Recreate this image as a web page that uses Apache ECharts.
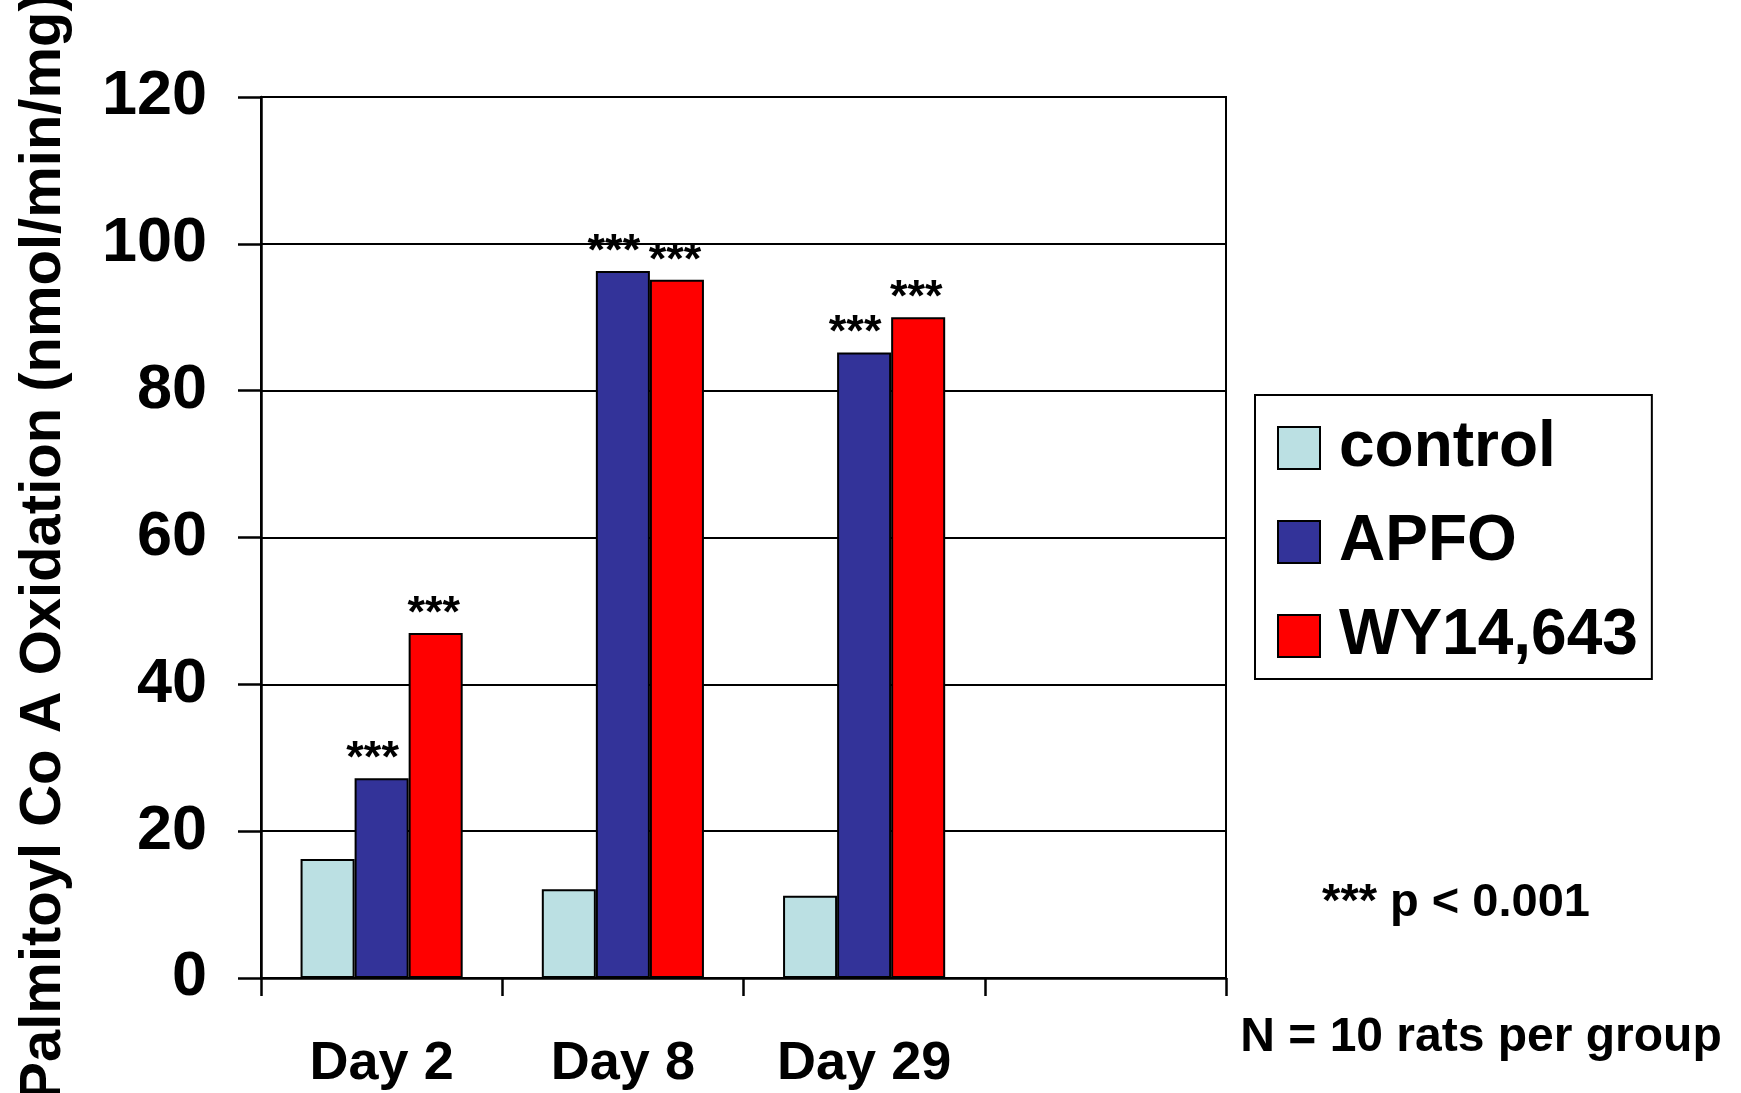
<!DOCTYPE html>
<html>
<head>
<meta charset="utf-8">
<script src="https://cdn.jsdelivr.net/npm/echarts@6/dist/echarts.min.js"></script>
<style>
html,body{margin:0;padding:0;background:#fff;}
#chart{width:1741px;height:1093px;}
</style>
</head>
<body>
<div id="chart"></div>
<script>
var categories = ['Day 2', 'Day 8', 'Day 29', ''];
var seriesNames = ['control', 'APFO', 'WY14,643'];
var controlValues = [16.2, 12.1, 11.2, null];
var apfoValues = [27.2, 96.3, 85.2, null];
var wyValues = [47.0, 95.1, 90.0, null];
var apfoSig = ['***', '***', '***', ''];
var wySig = ['***', '***', '***', ''];
var yTicks = [0, 20, 40, 60, 80, 100, 120];
var yTitle = 'Palmitoyl Co A Oxidation (nmol/min/mg)';
var noteP = '*** p < 0.001';
var noteN = 'N = 10 rats per group';

var FONT = '"Liberation Sans", Arial, sans-serif';
var chart = echarts.init(document.getElementById('chart'), null, {renderer: 'canvas'});

function sigLabel(arr, offset) {
  return {
    show: true,
    position: 'top',
    distance: -4,
    offset: offset,
    formatter: function (p) { return arr[p.dataIndex] || ''; },
    fontFamily: FONT,
    fontWeight: 'bold',
    fontSize: 45,
    color: '#000'
  };
}

var option = {
  animation: false,
  backgroundColor: '#fff',
  grid: {
    left: 261, right: 515, top: 97, bottom: 115,
    containLabel: false,
    outerBoundsMode: 'none',
    show: true, borderColor: '#000', borderWidth: 2, backgroundColor: 'transparent'
  },
  legend: {
    orient: 'vertical',
    left: 1255, top: 395,
    data: seriesNames,
    itemWidth: 42, itemHeight: 42,
    itemGap: 30,
    padding: [21, 14, 11, 22],
    borderColor: '#000', borderWidth: 2,
    icon: 'rect',
    textStyle: {fontFamily: FONT, fontWeight: 'bold', fontSize: 64, color: '#000', padding: [0, 0, 0, 14]}
  },
  xAxis: {
    type: 'category',
    data: categories,
    axisLine: {show: true, lineStyle: {color: '#000', width: 2.5}},
    axisTick: {show: true, length: 18, lineStyle: {color: '#000', width: 2.5}},
    axisLabel: {fontFamily: FONT, fontWeight: 'bold', fontSize: 54, color: '#000', margin: 59, interval: 0},
    splitLine: {show: false}
  },
  yAxis: {
    type: 'value',
    min: yTicks[0], max: yTicks[yTicks.length - 1], interval: 20,
    name: yTitle,
    nameLocation: 'middle',
    nameRotate: 90,
    nameGap: 188,
    nameTextStyle: {fontFamily: FONT, fontWeight: 'bold', fontSize: 58, color: '#000', padding: [0, 18, 0, 0]},
    axisLine: {show: true, lineStyle: {color: '#000', width: 2.5}},
    axisTick: {show: true, length: 23, lineStyle: {color: '#000', width: 2.5}},
    axisLabel: {fontFamily: FONT, fontWeight: 'bold', fontSize: 63, color: '#000', margin: 54},
    splitLine: {show: true, lineStyle: {color: '#000', width: 2}}
  },
  series: [
    {
      name: seriesNames[0], type: 'bar', data: controlValues,
      barWidth: '22.4%', barGap: '0%',
      itemStyle: {color: '#BBE0E3', borderColor: '#000', borderWidth: 2}
    },
    {
      name: seriesNames[1], type: 'bar', data: apfoValues,
      barWidth: '22.4%', barGap: '0%',
      itemStyle: {color: '#333399', borderColor: '#000', borderWidth: 2},
      label: sigLabel(apfoSig, [-9, 0])
    },
    {
      name: seriesNames[2], type: 'bar', data: wyValues,
      barWidth: '22.4%', barGap: '0%',
      itemStyle: {color: '#FF0000', borderColor: '#000', borderWidth: 2},
      label: sigLabel(wySig, [-2, 0])
    }
  ],
  graphic: [
    {type: 'text', x: 1456, y: 903,
     style: {text: noteP, font: 'bold 47px ' + FONT, fill: '#000', textAlign: 'center', textVerticalAlign: 'middle'}},
    {type: 'text', x: 1481, y: 1038,
     style: {text: noteN, font: 'bold 48px ' + FONT, fill: '#000', textAlign: 'center', textVerticalAlign: 'middle'}}
  ]
};
chart.setOption(option);
</script>
</body>
</html>
